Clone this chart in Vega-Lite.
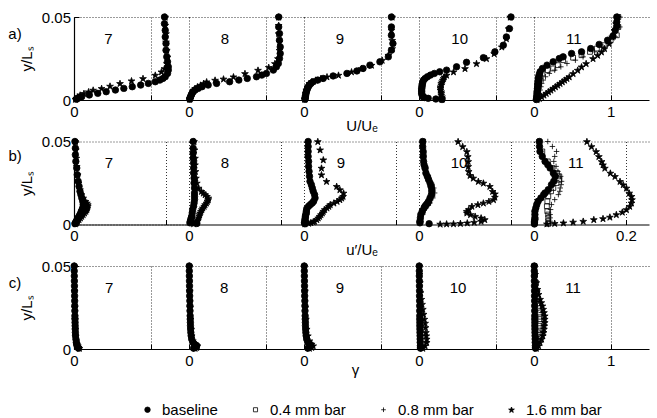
{
"$schema":"https://vega.github.io/schema/vega-lite/v6.json",
"padding":{"left":8,"top":10,"right":5,"bottom":0},
"datasets":{
"A":[
{"s":7,"g":"baseline","y":0.0005,"x":0.03},{"s":7,"g":"baseline","y":0.001,"x":0.05},{"s":7,"g":"baseline","y":0.0015,"x":0.07},{"s":7,"g":"baseline","y":0.002,"x":0.10},{"s":7,"g":"baseline","y":0.003,"x":0.20},{"s":7,"g":"baseline","y":0.004,"x":0.31},{"s":7,"g":"baseline","y":0.005,"x":0.42},{"s":7,"g":"baseline","y":0.006,"x":0.54},{"s":7,"g":"baseline","y":0.007,"x":0.65},{"s":7,"g":"baseline","y":0.008,"x":0.76},{"s":7,"g":"baseline","y":0.009,"x":0.87},{"s":7,"g":"baseline","y":0.010,"x":0.97},{"s":7,"g":"baseline","y":0.011,"x":1.06},{"s":7,"g":"baseline","y":0.012,"x":1.12},{"s":7,"g":"baseline","y":0.013,"x":1.16},{"s":7,"g":"baseline","y":0.014,"x":1.19},{"s":7,"g":"baseline","y":0.016,"x":1.22},{"s":7,"g":"baseline","y":0.018,"x":1.23},{"s":7,"g":"baseline","y":0.020,"x":1.23},{"s":7,"g":"baseline","y":0.023,"x":1.22},{"s":7,"g":"baseline","y":0.026,"x":1.21},{"s":7,"g":"baseline","y":0.030,"x":1.20},{"s":7,"g":"baseline","y":0.034,"x":1.20},{"s":7,"g":"baseline","y":0.038,"x":1.19},{"s":7,"g":"baseline","y":0.042,"x":1.19},{"s":7,"g":"baseline","y":0.046,"x":1.18},{"s":7,"g":"baseline","y":0.050,"x":1.18},
{"s":7,"g":"1.6 mm bar","y":0.0005,"x":0.02},{"s":7,"g":"1.6 mm bar","y":0.001,"x":0.03},{"s":7,"g":"1.6 mm bar","y":0.002,"x":0.05},{"s":7,"g":"1.6 mm bar","y":0.003,"x":0.08},{"s":7,"g":"1.6 mm bar","y":0.004,"x":0.13},{"s":7,"g":"1.6 mm bar","y":0.005,"x":0.19},{"s":7,"g":"1.6 mm bar","y":0.006,"x":0.25},{"s":7,"g":"1.6 mm bar","y":0.007,"x":0.36},{"s":7,"g":"1.6 mm bar","y":0.0084,"x":0.47},{"s":7,"g":"1.6 mm bar","y":0.010,"x":0.60},{"s":7,"g":"1.6 mm bar","y":0.0116,"x":0.75},{"s":7,"g":"1.6 mm bar","y":0.013,"x":0.90},{"s":7,"g":"1.6 mm bar","y":0.015,"x":1.06},{"s":7,"g":"1.6 mm bar","y":0.017,"x":1.14},{"s":7,"g":"1.6 mm bar","y":0.019,"x":1.18},{"s":7,"g":"1.6 mm bar","y":0.022,"x":1.21},{"s":7,"g":"1.6 mm bar","y":0.026,"x":1.22},{"s":7,"g":"1.6 mm bar","y":0.030,"x":1.21},{"s":7,"g":"1.6 mm bar","y":0.035,"x":1.20},{"s":7,"g":"1.6 mm bar","y":0.040,"x":1.20},{"s":7,"g":"1.6 mm bar","y":0.045,"x":1.19},{"s":7,"g":"1.6 mm bar","y":0.050,"x":1.19},
{"s":8,"g":"baseline","y":0.0005,"x":0.01},{"s":8,"g":"baseline","y":0.001,"x":0.013},{"s":8,"g":"baseline","y":0.002,"x":0.02},{"s":8,"g":"baseline","y":0.003,"x":0.03},{"s":8,"g":"baseline","y":0.004,"x":0.04},{"s":8,"g":"baseline","y":0.005,"x":0.055},{"s":8,"g":"baseline","y":0.006,"x":0.08},{"s":8,"g":"baseline","y":0.007,"x":0.12},{"s":8,"g":"baseline","y":0.008,"x":0.17},{"s":8,"g":"baseline","y":0.009,"x":0.25},{"s":8,"g":"baseline","y":0.010,"x":0.36},{"s":8,"g":"baseline","y":0.011,"x":0.53},{"s":8,"g":"baseline","y":0.012,"x":0.65},{"s":8,"g":"baseline","y":0.013,"x":0.76},{"s":8,"g":"baseline","y":0.014,"x":0.88},{"s":8,"g":"baseline","y":0.015,"x":0.95},{"s":8,"g":"baseline","y":0.016,"x":1.01},{"s":8,"g":"baseline","y":0.018,"x":1.10},{"s":8,"g":"baseline","y":0.020,"x":1.14},{"s":8,"g":"baseline","y":0.022,"x":1.165},{"s":8,"g":"baseline","y":0.025,"x":1.18},{"s":8,"g":"baseline","y":0.028,"x":1.19},{"s":8,"g":"baseline","y":0.032,"x":1.19},{"s":8,"g":"baseline","y":0.036,"x":1.18},{"s":8,"g":"baseline","y":0.040,"x":1.18},{"s":8,"g":"baseline","y":0.044,"x":1.17},{"s":8,"g":"baseline","y":0.050,"x":1.17},
{"s":8,"g":"1.6 mm bar","y":0.0005,"x":0.01},{"s":8,"g":"1.6 mm bar","y":0.001,"x":0.012},{"s":8,"g":"1.6 mm bar","y":0.002,"x":0.02},{"s":8,"g":"1.6 mm bar","y":0.003,"x":0.03},{"s":8,"g":"1.6 mm bar","y":0.004,"x":0.04},{"s":8,"g":"1.6 mm bar","y":0.005,"x":0.05},{"s":8,"g":"1.6 mm bar","y":0.006,"x":0.06},{"s":8,"g":"1.6 mm bar","y":0.007,"x":0.08},{"s":8,"g":"1.6 mm bar","y":0.008,"x":0.11},{"s":8,"g":"1.6 mm bar","y":0.009,"x":0.15},{"s":8,"g":"1.6 mm bar","y":0.010,"x":0.19},{"s":8,"g":"1.6 mm bar","y":0.011,"x":0.23},{"s":8,"g":"1.6 mm bar","y":0.012,"x":0.34},{"s":8,"g":"1.6 mm bar","y":0.0127,"x":0.45},{"s":8,"g":"1.6 mm bar","y":0.014,"x":0.58},{"s":8,"g":"1.6 mm bar","y":0.016,"x":0.73},{"s":8,"g":"1.6 mm bar","y":0.018,"x":0.90},{"s":8,"g":"1.6 mm bar","y":0.0197,"x":1.04},{"s":8,"g":"1.6 mm bar","y":0.022,"x":1.12},{"s":8,"g":"1.6 mm bar","y":0.025,"x":1.16},{"s":8,"g":"1.6 mm bar","y":0.030,"x":1.18},{"s":8,"g":"1.6 mm bar","y":0.035,"x":1.18},{"s":8,"g":"1.6 mm bar","y":0.040,"x":1.17},{"s":8,"g":"1.6 mm bar","y":0.045,"x":1.17},{"s":8,"g":"1.6 mm bar","y":0.050,"x":1.17},
{"s":9,"g":"baseline","y":0.0004,"x":0.013},{"s":9,"g":"baseline","y":0.001,"x":0.015},{"s":9,"g":"baseline","y":0.002,"x":0.018},{"s":9,"g":"baseline","y":0.003,"x":0.022},{"s":9,"g":"baseline","y":0.004,"x":0.026},{"s":9,"g":"baseline","y":0.005,"x":0.03},{"s":9,"g":"baseline","y":0.006,"x":0.038},{"s":9,"g":"baseline","y":0.007,"x":0.045},{"s":9,"g":"baseline","y":0.008,"x":0.056},{"s":9,"g":"baseline","y":0.009,"x":0.07},{"s":9,"g":"baseline","y":0.010,"x":0.09},{"s":9,"g":"baseline","y":0.011,"x":0.12},{"s":9,"g":"baseline","y":0.012,"x":0.18},{"s":9,"g":"baseline","y":0.013,"x":0.25},{"s":9,"g":"baseline","y":0.0145,"x":0.38},{"s":9,"g":"baseline","y":0.016,"x":0.56},{"s":9,"g":"baseline","y":0.0175,"x":0.69},{"s":9,"g":"baseline","y":0.019,"x":0.77},{"s":9,"g":"baseline","y":0.021,"x":0.86},{"s":9,"g":"baseline","y":0.023,"x":0.99},{"s":9,"g":"baseline","y":0.026,"x":1.10},{"s":9,"g":"baseline","y":0.030,"x":1.14},{"s":9,"g":"baseline","y":0.034,"x":1.16},{"s":9,"g":"baseline","y":0.039,"x":1.14},{"s":9,"g":"baseline","y":0.044,"x":1.14},{"s":9,"g":"baseline","y":0.050,"x":1.14},
{"s":9,"g":"1.6 mm bar","y":0.0005,"x":0.01},{"s":9,"g":"1.6 mm bar","y":0.001,"x":0.013},{"s":9,"g":"1.6 mm bar","y":0.002,"x":0.016},{"s":9,"g":"1.6 mm bar","y":0.004,"x":0.022},{"s":9,"g":"1.6 mm bar","y":0.006,"x":0.03},{"s":9,"g":"1.6 mm bar","y":0.008,"x":0.045},{"s":9,"g":"1.6 mm bar","y":0.010,"x":0.07},{"s":9,"g":"1.6 mm bar","y":0.011,"x":0.10},{"s":9,"g":"1.6 mm bar","y":0.012,"x":0.15},{"s":9,"g":"1.6 mm bar","y":0.013,"x":0.22},{"s":9,"g":"1.6 mm bar","y":0.014,"x":0.30},{"s":9,"g":"1.6 mm bar","y":0.015,"x":0.45},{"s":9,"g":"1.6 mm bar","y":0.017,"x":0.62},{"s":9,"g":"1.6 mm bar","y":0.019,"x":0.75},{"s":9,"g":"1.6 mm bar","y":0.021,"x":0.88},{"s":9,"g":"1.6 mm bar","y":0.024,"x":1.02},{"s":9,"g":"1.6 mm bar","y":0.027,"x":1.10},{"s":9,"g":"1.6 mm bar","y":0.031,"x":1.15},{"s":9,"g":"1.6 mm bar","y":0.036,"x":1.15},{"s":9,"g":"1.6 mm bar","y":0.042,"x":1.14},{"s":9,"g":"1.6 mm bar","y":0.050,"x":1.15},
{"s":10,"g":"baseline","y":0.0003,"x":0.30},{"s":10,"g":"baseline","y":0.0006,"x":0.22},{"s":10,"g":"baseline","y":0.001,"x":0.12},{"s":10,"g":"baseline","y":0.0015,"x":0.07},{"s":10,"g":"baseline","y":0.002,"x":0.05},{"s":10,"g":"baseline","y":0.003,"x":0.04},{"s":10,"g":"baseline","y":0.004,"x":0.035},{"s":10,"g":"baseline","y":0.005,"x":0.035},{"s":10,"g":"baseline","y":0.006,"x":0.035},{"s":10,"g":"baseline","y":0.007,"x":0.035},{"s":10,"g":"baseline","y":0.008,"x":0.04},{"s":10,"g":"baseline","y":0.009,"x":0.04},{"s":10,"g":"baseline","y":0.010,"x":0.045},{"s":10,"g":"baseline","y":0.011,"x":0.05},{"s":10,"g":"baseline","y":0.012,"x":0.06},{"s":10,"g":"baseline","y":0.013,"x":0.08},{"s":10,"g":"baseline","y":0.014,"x":0.11},{"s":10,"g":"baseline","y":0.015,"x":0.15},{"s":10,"g":"baseline","y":0.016,"x":0.20},{"s":10,"g":"baseline","y":0.017,"x":0.27},{"s":10,"g":"baseline","y":0.018,"x":0.36},{"s":10,"g":"baseline","y":0.020,"x":0.49},{"s":10,"g":"baseline","y":0.0227,"x":0.62},{"s":10,"g":"baseline","y":0.0255,"x":0.84},{"s":10,"g":"baseline","y":0.029,"x":0.99},{"s":10,"g":"baseline","y":0.033,"x":1.10},{"s":10,"g":"baseline","y":0.038,"x":1.14},{"s":10,"g":"baseline","y":0.043,"x":1.18},{"s":10,"g":"baseline","y":0.050,"x":1.20},
{"s":10,"g":"1.6 mm bar","y":0.0005,"x":0.30},{"s":10,"g":"1.6 mm bar","y":0.001,"x":0.30},{"s":10,"g":"1.6 mm bar","y":0.002,"x":0.30},{"s":10,"g":"1.6 mm bar","y":0.003,"x":0.29},{"s":10,"g":"1.6 mm bar","y":0.004,"x":0.29},{"s":10,"g":"1.6 mm bar","y":0.005,"x":0.29},{"s":10,"g":"1.6 mm bar","y":0.006,"x":0.28},{"s":10,"g":"1.6 mm bar","y":0.007,"x":0.28},{"s":10,"g":"1.6 mm bar","y":0.008,"x":0.28},{"s":10,"g":"1.6 mm bar","y":0.009,"x":0.29},{"s":10,"g":"1.6 mm bar","y":0.010,"x":0.29},{"s":10,"g":"1.6 mm bar","y":0.011,"x":0.30},{"s":10,"g":"1.6 mm bar","y":0.012,"x":0.31},{"s":10,"g":"1.6 mm bar","y":0.013,"x":0.32},{"s":10,"g":"1.6 mm bar","y":0.014,"x":0.33},{"s":10,"g":"1.6 mm bar","y":0.015,"x":0.36},{"s":10,"g":"1.6 mm bar","y":0.017,"x":0.45},{"s":10,"g":"1.6 mm bar","y":0.019,"x":0.60},{"s":10,"g":"1.6 mm bar","y":0.022,"x":0.75},{"s":10,"g":"1.6 mm bar","y":0.025,"x":0.88},{"s":10,"g":"1.6 mm bar","y":0.028,"x":0.98},{"s":10,"g":"1.6 mm bar","y":0.032,"x":1.08},{"s":10,"g":"1.6 mm bar","y":0.037,"x":1.14},{"s":10,"g":"1.6 mm bar","y":0.043,"x":1.17},{"s":10,"g":"1.6 mm bar","y":0.050,"x":1.19},
{"s":11,"g":"baseline","y":0.0003,"x":0.03},{"s":11,"g":"baseline","y":0.001,"x":0.035},{"s":11,"g":"baseline","y":0.002,"x":0.035},{"s":11,"g":"baseline","y":0.003,"x":0.04},{"s":11,"g":"baseline","y":0.004,"x":0.04},{"s":11,"g":"baseline","y":0.005,"x":0.04},{"s":11,"g":"baseline","y":0.006,"x":0.045},{"s":11,"g":"baseline","y":0.007,"x":0.045},{"s":11,"g":"baseline","y":0.008,"x":0.05},{"s":11,"g":"baseline","y":0.009,"x":0.05},{"s":11,"g":"baseline","y":0.010,"x":0.05},{"s":11,"g":"baseline","y":0.011,"x":0.055},{"s":11,"g":"baseline","y":0.012,"x":0.055},{"s":11,"g":"baseline","y":0.013,"x":0.06},{"s":11,"g":"baseline","y":0.014,"x":0.06},{"s":11,"g":"baseline","y":0.0155,"x":0.07},{"s":11,"g":"baseline","y":0.017,"x":0.08},{"s":11,"g":"baseline","y":0.019,"x":0.11},{"s":11,"g":"baseline","y":0.021,"x":0.17},{"s":11,"g":"baseline","y":0.023,"x":0.25},{"s":11,"g":"baseline","y":0.025,"x":0.33},{"s":11,"g":"baseline","y":0.026,"x":0.38},{"s":11,"g":"baseline","y":0.028,"x":0.49},{"s":11,"g":"baseline","y":0.029,"x":0.62},{"s":11,"g":"baseline","y":0.031,"x":0.74},{"s":11,"g":"baseline","y":0.0335,"x":0.85},{"s":11,"g":"baseline","y":0.036,"x":0.96},{"s":11,"g":"baseline","y":0.0385,"x":1.03},{"s":11,"g":"baseline","y":0.042,"x":1.06},{"s":11,"g":"baseline","y":0.0446,"x":1.08},{"s":11,"g":"baseline","y":0.047,"x":1.08},{"s":11,"g":"baseline","y":0.050,"x":1.08},
{"s":11,"g":"0.4 mm bar","y":0.0005,"x":0.04},{"s":11,"g":"0.4 mm bar","y":0.002,"x":0.045},{"s":11,"g":"0.4 mm bar","y":0.004,"x":0.05},{"s":11,"g":"0.4 mm bar","y":0.006,"x":0.055},{"s":11,"g":"0.4 mm bar","y":0.008,"x":0.06},{"s":11,"g":"0.4 mm bar","y":0.010,"x":0.065},{"s":11,"g":"0.4 mm bar","y":0.012,"x":0.07},{"s":11,"g":"0.4 mm bar","y":0.014,"x":0.08},{"s":11,"g":"0.4 mm bar","y":0.016,"x":0.11},{"s":11,"g":"0.4 mm bar","y":0.018,"x":0.18},{"s":11,"g":"0.4 mm bar","y":0.019,"x":0.25},{"s":11,"g":"0.4 mm bar","y":0.021,"x":0.31},{"s":11,"g":"0.4 mm bar","y":0.024,"x":0.38},{"s":11,"g":"0.4 mm bar","y":0.0255,"x":0.51},{"s":11,"g":"0.4 mm bar","y":0.027,"x":0.62},{"s":11,"g":"0.4 mm bar","y":0.029,"x":0.73},{"s":11,"g":"0.4 mm bar","y":0.031,"x":0.82},{"s":11,"g":"0.4 mm bar","y":0.033,"x":0.91},{"s":11,"g":"0.4 mm bar","y":0.036,"x":1.00},{"s":11,"g":"0.4 mm bar","y":0.039,"x":1.08},{"s":11,"g":"0.4 mm bar","y":0.044,"x":1.10},{"s":11,"g":"0.4 mm bar","y":0.050,"x":1.10},
{"s":11,"g":"0.8 mm bar","y":0.0005,"x":0.05},{"s":11,"g":"0.8 mm bar","y":0.002,"x":0.06},{"s":11,"g":"0.8 mm bar","y":0.004,"x":0.07},{"s":11,"g":"0.8 mm bar","y":0.006,"x":0.08},{"s":11,"g":"0.8 mm bar","y":0.008,"x":0.09},{"s":11,"g":"0.8 mm bar","y":0.010,"x":0.10},{"s":11,"g":"0.8 mm bar","y":0.012,"x":0.12},{"s":11,"g":"0.8 mm bar","y":0.014,"x":0.15},{"s":11,"g":"0.8 mm bar","y":0.016,"x":0.20},{"s":11,"g":"0.8 mm bar","y":0.018,"x":0.27},{"s":11,"g":"0.8 mm bar","y":0.020,"x":0.35},{"s":11,"g":"0.8 mm bar","y":0.022,"x":0.43},{"s":11,"g":"0.8 mm bar","y":0.024,"x":0.54},{"s":11,"g":"0.8 mm bar","y":0.026,"x":0.64},{"s":11,"g":"0.8 mm bar","y":0.029,"x":0.79},{"s":11,"g":"0.8 mm bar","y":0.032,"x":0.90},{"s":11,"g":"0.8 mm bar","y":0.034,"x":0.97},{"s":11,"g":"0.8 mm bar","y":0.038,"x":1.06},{"s":11,"g":"0.8 mm bar","y":0.044,"x":1.12},{"s":11,"g":"0.8 mm bar","y":0.050,"x":1.12},
{"s":11,"g":"1.6 mm bar","y":0.0003,"x":0.04},{"s":11,"g":"1.6 mm bar","y":0.001,"x":0.07},{"s":11,"g":"1.6 mm bar","y":0.002,"x":0.10},{"s":11,"g":"1.6 mm bar","y":0.003,"x":0.13},{"s":11,"g":"1.6 mm bar","y":0.004,"x":0.16},{"s":11,"g":"1.6 mm bar","y":0.005,"x":0.19},{"s":11,"g":"1.6 mm bar","y":0.006,"x":0.22},{"s":11,"g":"1.6 mm bar","y":0.007,"x":0.25},{"s":11,"g":"1.6 mm bar","y":0.008,"x":0.28},{"s":11,"g":"1.6 mm bar","y":0.009,"x":0.31},{"s":11,"g":"1.6 mm bar","y":0.010,"x":0.34},{"s":11,"g":"1.6 mm bar","y":0.011,"x":0.37},{"s":11,"g":"1.6 mm bar","y":0.012,"x":0.40},{"s":11,"g":"1.6 mm bar","y":0.013,"x":0.43},{"s":11,"g":"1.6 mm bar","y":0.014,"x":0.46},{"s":11,"g":"1.6 mm bar","y":0.016,"x":0.51},{"s":11,"g":"1.6 mm bar","y":0.018,"x":0.57},{"s":11,"g":"1.6 mm bar","y":0.020,"x":0.62},{"s":11,"g":"1.6 mm bar","y":0.022,"x":0.68},{"s":11,"g":"1.6 mm bar","y":0.025,"x":0.77},{"s":11,"g":"1.6 mm bar","y":0.027,"x":0.83},{"s":11,"g":"1.6 mm bar","y":0.029,"x":0.88},{"s":11,"g":"1.6 mm bar","y":0.031,"x":0.92},{"s":11,"g":"1.6 mm bar","y":0.034,"x":0.98},{"s":11,"g":"1.6 mm bar","y":0.038,"x":1.02},{"s":11,"g":"1.6 mm bar","y":0.042,"x":1.05},{"s":11,"g":"1.6 mm bar","y":0.046,"x":1.07},{"s":11,"g":"1.6 mm bar","y":0.050,"x":1.09}
],
"B":[
{"s":7,"g":"baseline","y":0.0005,"x":0.002},{"s":7,"g":"baseline","y":0.001,"x":0.003},{"s":7,"g":"baseline","y":0.002,"x":0.005},{"s":7,"g":"baseline","y":0.003,"x":0.007},{"s":7,"g":"baseline","y":0.004,"x":0.009},{"s":7,"g":"baseline","y":0.005,"x":0.011},{"s":7,"g":"baseline","y":0.006,"x":0.013},{"s":7,"g":"baseline","y":0.007,"x":0.015},{"s":7,"g":"baseline","y":0.008,"x":0.016},{"s":7,"g":"baseline","y":0.009,"x":0.018},{"s":7,"g":"baseline","y":0.010,"x":0.019},{"s":7,"g":"baseline","y":0.012,"x":0.020},{"s":7,"g":"baseline","y":0.014,"x":0.019},{"s":7,"g":"baseline","y":0.016,"x":0.017},{"s":7,"g":"baseline","y":0.018,"x":0.015},{"s":7,"g":"baseline","y":0.020,"x":0.013},{"s":7,"g":"baseline","y":0.023,"x":0.011},{"s":7,"g":"baseline","y":0.026,"x":0.009},{"s":7,"g":"baseline","y":0.030,"x":0.007},{"s":7,"g":"baseline","y":0.034,"x":0.006},{"s":7,"g":"baseline","y":0.038,"x":0.004},{"s":7,"g":"baseline","y":0.042,"x":0.003},{"s":7,"g":"baseline","y":0.046,"x":0.003},{"s":7,"g":"baseline","y":0.050,"x":0.002},
{"s":7,"g":"1.6 mm bar","y":0.0005,"x":0.003},{"s":7,"g":"1.6 mm bar","y":0.001,"x":0.005},{"s":7,"g":"1.6 mm bar","y":0.002,"x":0.008},{"s":7,"g":"1.6 mm bar","y":0.003,"x":0.011},{"s":7,"g":"1.6 mm bar","y":0.004,"x":0.014},{"s":7,"g":"1.6 mm bar","y":0.005,"x":0.017},{"s":7,"g":"1.6 mm bar","y":0.006,"x":0.020},{"s":7,"g":"1.6 mm bar","y":0.007,"x":0.023},{"s":7,"g":"1.6 mm bar","y":0.008,"x":0.026},{"s":7,"g":"1.6 mm bar","y":0.009,"x":0.028},{"s":7,"g":"1.6 mm bar","y":0.010,"x":0.029},{"s":7,"g":"1.6 mm bar","y":0.011,"x":0.030},{"s":7,"g":"1.6 mm bar","y":0.012,"x":0.030},{"s":7,"g":"1.6 mm bar","y":0.013,"x":0.028},{"s":7,"g":"1.6 mm bar","y":0.014,"x":0.025},{"s":7,"g":"1.6 mm bar","y":0.016,"x":0.020},{"s":7,"g":"1.6 mm bar","y":0.018,"x":0.016},{"s":7,"g":"1.6 mm bar","y":0.021,"x":0.013},{"s":7,"g":"1.6 mm bar","y":0.025,"x":0.010},{"s":7,"g":"1.6 mm bar","y":0.030,"x":0.008},{"s":7,"g":"1.6 mm bar","y":0.035,"x":0.006},{"s":7,"g":"1.6 mm bar","y":0.040,"x":0.005},{"s":7,"g":"1.6 mm bar","y":0.045,"x":0.004},{"s":7,"g":"1.6 mm bar","y":0.050,"x":0.003},
{"s":8,"g":"baseline","y":0.0006,"x":0.017},{"s":8,"g":"baseline","y":0.001,"x":0.002},{"s":8,"g":"baseline","y":0.002,"x":0.003},{"s":8,"g":"baseline","y":0.003,"x":0.004},{"s":8,"g":"baseline","y":0.004,"x":0.005},{"s":8,"g":"baseline","y":0.005,"x":0.006},{"s":8,"g":"baseline","y":0.007,"x":0.007},{"s":8,"g":"baseline","y":0.009,"x":0.008},{"s":8,"g":"baseline","y":0.011,"x":0.010},{"s":8,"g":"baseline","y":0.013,"x":0.011},{"s":8,"g":"baseline","y":0.015,"x":0.012},{"s":8,"g":"baseline","y":0.017,"x":0.012},{"s":8,"g":"baseline","y":0.019,"x":0.012},{"s":8,"g":"baseline","y":0.022,"x":0.012},{"s":8,"g":"baseline","y":0.025,"x":0.011},{"s":8,"g":"baseline","y":0.028,"x":0.011},{"s":8,"g":"baseline","y":0.031,"x":0.010},{"s":8,"g":"baseline","y":0.034,"x":0.010},{"s":8,"g":"baseline","y":0.037,"x":0.010},{"s":8,"g":"baseline","y":0.040,"x":0.009},{"s":8,"g":"baseline","y":0.043,"x":0.009},{"s":8,"g":"baseline","y":0.046,"x":0.009},{"s":8,"g":"baseline","y":0.050,"x":0.009},
{"s":8,"g":"1.6 mm bar","y":0.0005,"x":0.010},{"s":8,"g":"1.6 mm bar","y":0.001,"x":0.014},{"s":8,"g":"1.6 mm bar","y":0.002,"x":0.017},{"s":8,"g":"1.6 mm bar","y":0.003,"x":0.019},{"s":8,"g":"1.6 mm bar","y":0.004,"x":0.021},{"s":8,"g":"1.6 mm bar","y":0.005,"x":0.022},{"s":8,"g":"1.6 mm bar","y":0.006,"x":0.023},{"s":8,"g":"1.6 mm bar","y":0.007,"x":0.024},{"s":8,"g":"1.6 mm bar","y":0.008,"x":0.026},{"s":8,"g":"1.6 mm bar","y":0.009,"x":0.028},{"s":8,"g":"1.6 mm bar","y":0.010,"x":0.030},{"s":8,"g":"1.6 mm bar","y":0.011,"x":0.033},{"s":8,"g":"1.6 mm bar","y":0.012,"x":0.035},{"s":8,"g":"1.6 mm bar","y":0.013,"x":0.038},{"s":8,"g":"1.6 mm bar","y":0.014,"x":0.040},{"s":8,"g":"1.6 mm bar","y":0.015,"x":0.042},{"s":8,"g":"1.6 mm bar","y":0.016,"x":0.042},{"s":8,"g":"1.6 mm bar","y":0.017,"x":0.039},{"s":8,"g":"1.6 mm bar","y":0.018,"x":0.035},{"s":8,"g":"1.6 mm bar","y":0.019,"x":0.031},{"s":8,"g":"1.6 mm bar","y":0.020,"x":0.027},{"s":8,"g":"1.6 mm bar","y":0.022,"x":0.021},{"s":8,"g":"1.6 mm bar","y":0.025,"x":0.017},{"s":8,"g":"1.6 mm bar","y":0.028,"x":0.015},{"s":8,"g":"1.6 mm bar","y":0.032,"x":0.014},{"s":8,"g":"1.6 mm bar","y":0.036,"x":0.013},{"s":8,"g":"1.6 mm bar","y":0.040,"x":0.013},{"s":8,"g":"1.6 mm bar","y":0.045,"x":0.012},{"s":8,"g":"1.6 mm bar","y":0.050,"x":0.011},
{"s":9,"g":"baseline","y":0.0004,"x":0.002},{"s":9,"g":"baseline","y":0.001,"x":0.001},{"s":9,"g":"baseline","y":0.002,"x":0.002},{"s":9,"g":"baseline","y":0.003,"x":0.002},{"s":9,"g":"baseline","y":0.004,"x":0.003},{"s":9,"g":"baseline","y":0.005,"x":0.003},{"s":9,"g":"baseline","y":0.006,"x":0.004},{"s":9,"g":"baseline","y":0.007,"x":0.005},{"s":9,"g":"baseline","y":0.008,"x":0.005},{"s":9,"g":"baseline","y":0.0095,"x":0.006},{"s":9,"g":"baseline","y":0.011,"x":0.010},{"s":9,"g":"baseline","y":0.012,"x":0.014},{"s":9,"g":"baseline","y":0.013,"x":0.018},{"s":9,"g":"baseline","y":0.014,"x":0.021},{"s":9,"g":"baseline","y":0.016,"x":0.024},{"s":9,"g":"baseline","y":0.018,"x":0.023},{"s":9,"g":"baseline","y":0.020,"x":0.020},{"s":9,"g":"baseline","y":0.022,"x":0.018},{"s":9,"g":"baseline","y":0.024,"x":0.016},{"s":9,"g":"baseline","y":0.026,"x":0.013},{"s":9,"g":"baseline","y":0.029,"x":0.012},{"s":9,"g":"baseline","y":0.032,"x":0.011},{"s":9,"g":"baseline","y":0.035,"x":0.010},{"s":9,"g":"baseline","y":0.038,"x":0.010},{"s":9,"g":"baseline","y":0.041,"x":0.009},{"s":9,"g":"baseline","y":0.044,"x":0.009},{"s":9,"g":"baseline","y":0.047,"x":0.009},{"s":9,"g":"baseline","y":0.050,"x":0.009},
{"s":9,"g":"1.6 mm bar","y":0.0004,"x":0.002},{"s":9,"g":"1.6 mm bar","y":0.0008,"x":0.010},{"s":9,"g":"1.6 mm bar","y":0.0012,"x":0.015},{"s":9,"g":"1.6 mm bar","y":0.0016,"x":0.020},{"s":9,"g":"1.6 mm bar","y":0.002,"x":0.023},{"s":9,"g":"1.6 mm bar","y":0.003,"x":0.028},{"s":9,"g":"1.6 mm bar","y":0.004,"x":0.031},{"s":9,"g":"1.6 mm bar","y":0.005,"x":0.034},{"s":9,"g":"1.6 mm bar","y":0.006,"x":0.037},{"s":9,"g":"1.6 mm bar","y":0.007,"x":0.040},{"s":9,"g":"1.6 mm bar","y":0.008,"x":0.042},{"s":9,"g":"1.6 mm bar","y":0.009,"x":0.045},{"s":9,"g":"1.6 mm bar","y":0.010,"x":0.050},{"s":9,"g":"1.6 mm bar","y":0.011,"x":0.054},{"s":9,"g":"1.6 mm bar","y":0.012,"x":0.057},{"s":9,"g":"1.6 mm bar","y":0.013,"x":0.065},{"s":9,"g":"1.6 mm bar","y":0.014,"x":0.072},{"s":9,"g":"1.6 mm bar","y":0.015,"x":0.078},{"s":9,"g":"1.6 mm bar","y":0.016,"x":0.082},{"s":9,"g":"1.6 mm bar","y":0.017,"x":0.085},{"s":9,"g":"1.6 mm bar","y":0.019,"x":0.086},{"s":9,"g":"1.6 mm bar","y":0.021,"x":0.078},{"s":9,"g":"1.6 mm bar","y":0.023,"x":0.071},{"s":9,"g":"1.6 mm bar","y":0.026,"x":0.049},{"s":9,"g":"1.6 mm bar","y":0.030,"x":0.038},{"s":9,"g":"1.6 mm bar","y":0.034,"x":0.038},{"s":9,"g":"1.6 mm bar","y":0.039,"x":0.042},{"s":9,"g":"1.6 mm bar","y":0.045,"x":0.035},{"s":9,"g":"1.6 mm bar","y":0.050,"x":0.030},
{"s":10,"g":"baseline","y":0.0005,"x":0.022},{"s":10,"g":"baseline","y":0.001,"x":0.002},{"s":10,"g":"baseline","y":0.002,"x":0.002},{"s":10,"g":"baseline","y":0.004,"x":0.003},{"s":10,"g":"baseline","y":0.006,"x":0.004},{"s":10,"g":"baseline","y":0.008,"x":0.007},{"s":10,"g":"baseline","y":0.010,"x":0.011},{"s":10,"g":"baseline","y":0.011,"x":0.013},{"s":10,"g":"baseline","y":0.012,"x":0.016},{"s":10,"g":"baseline","y":0.013,"x":0.019},{"s":10,"g":"baseline","y":0.014,"x":0.021},{"s":10,"g":"baseline","y":0.016,"x":0.024},{"s":10,"g":"baseline","y":0.018,"x":0.027},{"s":10,"g":"baseline","y":0.020,"x":0.028},{"s":10,"g":"baseline","y":0.021,"x":0.028},{"s":10,"g":"baseline","y":0.023,"x":0.026},{"s":10,"g":"baseline","y":0.025,"x":0.024},{"s":10,"g":"baseline","y":0.027,"x":0.021},{"s":10,"g":"baseline","y":0.029,"x":0.018},{"s":10,"g":"baseline","y":0.031,"x":0.015},{"s":10,"g":"baseline","y":0.034,"x":0.013},{"s":10,"g":"baseline","y":0.036,"x":0.011},{"s":10,"g":"baseline","y":0.038,"x":0.010},{"s":10,"g":"baseline","y":0.041,"x":0.009},{"s":10,"g":"baseline","y":0.044,"x":0.009},{"s":10,"g":"baseline","y":0.047,"x":0.008},{"s":10,"g":"baseline","y":0.050,"x":0.008},
{"s":10,"g":"0.4 mm bar","y":0.002,"x":0.003},{"s":10,"g":"0.4 mm bar","y":0.008,"x":0.008},{"s":10,"g":"0.4 mm bar","y":0.013,"x":0.020},{"s":10,"g":"0.4 mm bar","y":0.018,"x":0.029},{"s":10,"g":"0.4 mm bar","y":0.023,"x":0.028},{"s":10,"g":"0.4 mm bar","y":0.028,"x":0.020},{"s":10,"g":"0.4 mm bar","y":0.034,"x":0.014},{"s":10,"g":"0.4 mm bar","y":0.042,"x":0.010},{"s":10,"g":"0.4 mm bar","y":0.050,"x":0.009},
{"s":10,"g":"0.8 mm bar","y":0.002,"x":0.004},{"s":10,"g":"0.8 mm bar","y":0.006,"x":0.008},{"s":10,"g":"0.8 mm bar","y":0.010,"x":0.016},{"s":10,"g":"0.8 mm bar","y":0.013,"x":0.024},{"s":10,"g":"0.8 mm bar","y":0.016,"x":0.030},{"s":10,"g":"0.8 mm bar","y":0.019,"x":0.034},{"s":10,"g":"0.8 mm bar","y":0.022,"x":0.032},{"s":10,"g":"0.8 mm bar","y":0.025,"x":0.027},{"s":10,"g":"0.8 mm bar","y":0.029,"x":0.020},{"s":10,"g":"0.8 mm bar","y":0.034,"x":0.014},{"s":10,"g":"0.8 mm bar","y":0.040,"x":0.011},{"s":10,"g":"0.8 mm bar","y":0.046,"x":0.010},{"s":10,"g":"0.8 mm bar","y":0.050,"x":0.009},
{"s":10,"g":"1.6 mm bar","y":0.0003,"x":0.046},{"s":10,"g":"1.6 mm bar","y":0.0004,"x":0.060},{"s":10,"g":"1.6 mm bar","y":0.0005,"x":0.075},{"s":10,"g":"1.6 mm bar","y":0.0007,"x":0.090},{"s":10,"g":"1.6 mm bar","y":0.001,"x":0.105},{"s":10,"g":"1.6 mm bar","y":0.0014,"x":0.120},{"s":10,"g":"1.6 mm bar","y":0.002,"x":0.135},{"s":10,"g":"1.6 mm bar","y":0.003,"x":0.143},{"s":10,"g":"1.6 mm bar","y":0.004,"x":0.135},{"s":10,"g":"1.6 mm bar","y":0.005,"x":0.122},{"s":10,"g":"1.6 mm bar","y":0.006,"x":0.112},{"s":10,"g":"1.6 mm bar","y":0.007,"x":0.104},{"s":10,"g":"1.6 mm bar","y":0.008,"x":0.104},{"s":10,"g":"1.6 mm bar","y":0.009,"x":0.108},{"s":10,"g":"1.6 mm bar","y":0.011,"x":0.115},{"s":10,"g":"1.6 mm bar","y":0.012,"x":0.128},{"s":10,"g":"1.6 mm bar","y":0.013,"x":0.140},{"s":10,"g":"1.6 mm bar","y":0.014,"x":0.152},{"s":10,"g":"1.6 mm bar","y":0.015,"x":0.162},{"s":10,"g":"1.6 mm bar","y":0.0165,"x":0.165},{"s":10,"g":"1.6 mm bar","y":0.0185,"x":0.165},{"s":10,"g":"1.6 mm bar","y":0.020,"x":0.160},{"s":10,"g":"1.6 mm bar","y":0.023,"x":0.154},{"s":10,"g":"1.6 mm bar","y":0.025,"x":0.140},{"s":10,"g":"1.6 mm bar","y":0.026,"x":0.129},{"s":10,"g":"1.6 mm bar","y":0.028,"x":0.118},{"s":10,"g":"1.6 mm bar","y":0.0296,"x":0.111},{"s":10,"g":"1.6 mm bar","y":0.032,"x":0.108},{"s":10,"g":"1.6 mm bar","y":0.035,"x":0.107},{"s":10,"g":"1.6 mm bar","y":0.038,"x":0.107},{"s":10,"g":"1.6 mm bar","y":0.041,"x":0.106},{"s":10,"g":"1.6 mm bar","y":0.044,"x":0.104},{"s":10,"g":"1.6 mm bar","y":0.047,"x":0.095},{"s":10,"g":"1.6 mm bar","y":0.050,"x":0.085},
{"s":11,"g":"baseline","y":0.0003,"x":0.001},{"s":11,"g":"baseline","y":0.001,"x":0.001},{"s":11,"g":"baseline","y":0.002,"x":0.001},{"s":11,"g":"baseline","y":0.003,"x":0.002},{"s":11,"g":"baseline","y":0.004,"x":0.002},{"s":11,"g":"baseline","y":0.006,"x":0.002},{"s":11,"g":"baseline","y":0.008,"x":0.002},{"s":11,"g":"baseline","y":0.010,"x":0.004},{"s":11,"g":"baseline","y":0.012,"x":0.006},{"s":11,"g":"baseline","y":0.014,"x":0.009},{"s":11,"g":"baseline","y":0.016,"x":0.015},{"s":11,"g":"baseline","y":0.018,"x":0.021},{"s":11,"g":"baseline","y":0.019,"x":0.024},{"s":11,"g":"baseline","y":0.021,"x":0.031},{"s":11,"g":"baseline","y":0.024,"x":0.038},{"s":11,"g":"baseline","y":0.026,"x":0.043},{"s":11,"g":"baseline","y":0.029,"x":0.046},{"s":11,"g":"baseline","y":0.031,"x":0.042},{"s":11,"g":"baseline","y":0.034,"x":0.035},{"s":11,"g":"baseline","y":0.036,"x":0.030},{"s":11,"g":"baseline","y":0.038,"x":0.024},{"s":11,"g":"baseline","y":0.041,"x":0.018},{"s":11,"g":"baseline","y":0.044,"x":0.013},{"s":11,"g":"baseline","y":0.047,"x":0.012},{"s":11,"g":"baseline","y":0.050,"x":0.0116},
{"s":11,"g":"0.4 mm bar","y":0.0005,"x":0.031},{"s":11,"g":"0.4 mm bar","y":0.002,"x":0.031},{"s":11,"g":"0.4 mm bar","y":0.004,"x":0.031},{"s":11,"g":"0.4 mm bar","y":0.006,"x":0.031},{"s":11,"g":"0.4 mm bar","y":0.008,"x":0.029},{"s":11,"g":"0.4 mm bar","y":0.011,"x":0.028},{"s":11,"g":"0.4 mm bar","y":0.014,"x":0.029},{"s":11,"g":"0.4 mm bar","y":0.017,"x":0.031},{"s":11,"g":"0.4 mm bar","y":0.020,"x":0.037},{"s":11,"g":"0.4 mm bar","y":0.022,"x":0.042},{"s":11,"g":"0.4 mm bar","y":0.025,"x":0.049},{"s":11,"g":"0.4 mm bar","y":0.027,"x":0.055},{"s":11,"g":"0.4 mm bar","y":0.029,"x":0.055},{"s":11,"g":"0.4 mm bar","y":0.031,"x":0.050},{"s":11,"g":"0.4 mm bar","y":0.034,"x":0.040},{"s":11,"g":"0.4 mm bar","y":0.038,"x":0.030},{"s":11,"g":"0.4 mm bar","y":0.044,"x":0.018},{"s":11,"g":"0.4 mm bar","y":0.050,"x":0.012},
{"s":11,"g":"0.8 mm bar","y":0.0005,"x":0.035},{"s":11,"g":"0.8 mm bar","y":0.002,"x":0.035},{"s":11,"g":"0.8 mm bar","y":0.004,"x":0.035},{"s":11,"g":"0.8 mm bar","y":0.006,"x":0.035},{"s":11,"g":"0.8 mm bar","y":0.009,"x":0.036},{"s":11,"g":"0.8 mm bar","y":0.012,"x":0.038},{"s":11,"g":"0.8 mm bar","y":0.015,"x":0.045},{"s":11,"g":"0.8 mm bar","y":0.018,"x":0.053},{"s":11,"g":"0.8 mm bar","y":0.020,"x":0.056},{"s":11,"g":"0.8 mm bar","y":0.022,"x":0.057},{"s":11,"g":"0.8 mm bar","y":0.024,"x":0.059},{"s":11,"g":"0.8 mm bar","y":0.026,"x":0.060},{"s":11,"g":"0.8 mm bar","y":0.029,"x":0.058},{"s":11,"g":"0.8 mm bar","y":0.032,"x":0.052},{"s":11,"g":"0.8 mm bar","y":0.035,"x":0.048},{"s":11,"g":"0.8 mm bar","y":0.038,"x":0.043},{"s":11,"g":"0.8 mm bar","y":0.041,"x":0.045},{"s":11,"g":"0.8 mm bar","y":0.044,"x":0.049},{"s":11,"g":"0.8 mm bar","y":0.047,"x":0.040},{"s":11,"g":"0.8 mm bar","y":0.050,"x":0.030},
{"s":11,"g":"1.6 mm bar","y":0.0004,"x":0.028},{"s":11,"g":"1.6 mm bar","y":0.0007,"x":0.045},{"s":11,"g":"1.6 mm bar","y":0.001,"x":0.064},{"s":11,"g":"1.6 mm bar","y":0.0015,"x":0.085},{"s":11,"g":"1.6 mm bar","y":0.002,"x":0.107},{"s":11,"g":"1.6 mm bar","y":0.003,"x":0.130},{"s":11,"g":"1.6 mm bar","y":0.0036,"x":0.150},{"s":11,"g":"1.6 mm bar","y":0.0045,"x":0.165},{"s":11,"g":"1.6 mm bar","y":0.006,"x":0.179},{"s":11,"g":"1.6 mm bar","y":0.0075,"x":0.192},{"s":11,"g":"1.6 mm bar","y":0.009,"x":0.201},{"s":11,"g":"1.6 mm bar","y":0.011,"x":0.208},{"s":11,"g":"1.6 mm bar","y":0.013,"x":0.212},{"s":11,"g":"1.6 mm bar","y":0.015,"x":0.213},{"s":11,"g":"1.6 mm bar","y":0.017,"x":0.212},{"s":11,"g":"1.6 mm bar","y":0.019,"x":0.207},{"s":11,"g":"1.6 mm bar","y":0.022,"x":0.201},{"s":11,"g":"1.6 mm bar","y":0.024,"x":0.194},{"s":11,"g":"1.6 mm bar","y":0.026,"x":0.187},{"s":11,"g":"1.6 mm bar","y":0.029,"x":0.176},{"s":11,"g":"1.6 mm bar","y":0.031,"x":0.166},{"s":11,"g":"1.6 mm bar","y":0.034,"x":0.154},{"s":11,"g":"1.6 mm bar","y":0.036,"x":0.150},{"s":11,"g":"1.6 mm bar","y":0.038,"x":0.147},{"s":11,"g":"1.6 mm bar","y":0.041,"x":0.141},{"s":11,"g":"1.6 mm bar","y":0.044,"x":0.135},{"s":11,"g":"1.6 mm bar","y":0.047,"x":0.125},{"s":11,"g":"1.6 mm bar","y":0.050,"x":0.115}
],
"C":[
{"s":7,"g":"baseline","y":0.0005,"x":0.06},{"s":7,"g":"baseline","y":0.001,"x":0.05},{"s":7,"g":"baseline","y":0.002,"x":0.04},{"s":7,"g":"baseline","y":0.003,"x":0.035},{"s":7,"g":"baseline","y":0.004,"x":0.03},{"s":7,"g":"baseline","y":0.006,"x":0.025},{"s":7,"g":"baseline","y":0.008,"x":0.02},{"s":7,"g":"baseline","y":0.010,"x":0.018},{"s":7,"g":"baseline","y":0.012,"x":0.016},{"s":7,"g":"baseline","y":0.014,"x":0.015},{"s":7,"g":"baseline","y":0.016,"x":0.014},{"s":7,"g":"baseline","y":0.018,"x":0.013},{"s":7,"g":"baseline","y":0.020,"x":0.012},{"s":7,"g":"baseline","y":0.023,"x":0.011},{"s":7,"g":"baseline","y":0.026,"x":0.01},{"s":7,"g":"baseline","y":0.029,"x":0.009},{"s":7,"g":"baseline","y":0.032,"x":0.008},{"s":7,"g":"baseline","y":0.035,"x":0.007},{"s":7,"g":"baseline","y":0.038,"x":0.006},{"s":7,"g":"baseline","y":0.041,"x":0.005},{"s":7,"g":"baseline","y":0.044,"x":0.004},{"s":7,"g":"baseline","y":0.047,"x":0.003},{"s":7,"g":"baseline","y":0.050,"x":0.003},
{"s":7,"g":"1.6 mm bar","y":0.0005,"x":0.07},{"s":7,"g":"1.6 mm bar","y":0.001,"x":0.06},{"s":7,"g":"1.6 mm bar","y":0.002,"x":0.05},{"s":7,"g":"1.6 mm bar","y":0.003,"x":0.04},{"s":7,"g":"1.6 mm bar","y":0.005,"x":0.03},{"s":7,"g":"1.6 mm bar","y":0.008,"x":0.022},{"s":7,"g":"1.6 mm bar","y":0.012,"x":0.017},{"s":7,"g":"1.6 mm bar","y":0.018,"x":0.013},{"s":7,"g":"1.6 mm bar","y":0.025,"x":0.01},{"s":7,"g":"1.6 mm bar","y":0.035,"x":0.007},{"s":7,"g":"1.6 mm bar","y":0.050,"x":0.004},
{"s":8,"g":"baseline","y":0.0005,"x":0.06},{"s":8,"g":"baseline","y":0.001,"x":0.08},{"s":8,"g":"baseline","y":0.002,"x":0.10},{"s":8,"g":"baseline","y":0.003,"x":0.07},{"s":8,"g":"baseline","y":0.004,"x":0.05},{"s":8,"g":"baseline","y":0.006,"x":0.035},{"s":8,"g":"baseline","y":0.008,"x":0.028},{"s":8,"g":"baseline","y":0.010,"x":0.024},{"s":8,"g":"baseline","y":0.012,"x":0.021},{"s":8,"g":"baseline","y":0.014,"x":0.019},{"s":8,"g":"baseline","y":0.016,"x":0.018},{"s":8,"g":"baseline","y":0.018,"x":0.016},{"s":8,"g":"baseline","y":0.020,"x":0.015},{"s":8,"g":"baseline","y":0.023,"x":0.013},{"s":8,"g":"baseline","y":0.026,"x":0.012},{"s":8,"g":"baseline","y":0.029,"x":0.011},{"s":8,"g":"baseline","y":0.032,"x":0.009},{"s":8,"g":"baseline","y":0.035,"x":0.008},{"s":8,"g":"baseline","y":0.038,"x":0.007},{"s":8,"g":"baseline","y":0.041,"x":0.006},{"s":8,"g":"baseline","y":0.044,"x":0.005},{"s":8,"g":"baseline","y":0.047,"x":0.004},{"s":8,"g":"baseline","y":0.050,"x":0.003},
{"s":8,"g":"1.6 mm bar","y":0.0005,"x":0.08},{"s":8,"g":"1.6 mm bar","y":0.001,"x":0.10},{"s":8,"g":"1.6 mm bar","y":0.002,"x":0.11},{"s":8,"g":"1.6 mm bar","y":0.003,"x":0.08},{"s":8,"g":"1.6 mm bar","y":0.005,"x":0.05},{"s":8,"g":"1.6 mm bar","y":0.008,"x":0.035},{"s":8,"g":"1.6 mm bar","y":0.012,"x":0.028},{"s":8,"g":"1.6 mm bar","y":0.018,"x":0.02},{"s":8,"g":"1.6 mm bar","y":0.025,"x":0.015},{"s":8,"g":"1.6 mm bar","y":0.035,"x":0.01},{"s":8,"g":"1.6 mm bar","y":0.050,"x":0.005},
{"s":9,"g":"baseline","y":0.0005,"x":0.05},{"s":9,"g":"baseline","y":0.001,"x":0.07},{"s":9,"g":"baseline","y":0.002,"x":0.09},{"s":9,"g":"baseline","y":0.003,"x":0.07},{"s":9,"g":"baseline","y":0.004,"x":0.05},{"s":9,"g":"baseline","y":0.006,"x":0.035},{"s":9,"g":"baseline","y":0.008,"x":0.028},{"s":9,"g":"baseline","y":0.010,"x":0.024},{"s":9,"g":"baseline","y":0.012,"x":0.021},{"s":9,"g":"baseline","y":0.014,"x":0.019},{"s":9,"g":"baseline","y":0.016,"x":0.018},{"s":9,"g":"baseline","y":0.018,"x":0.016},{"s":9,"g":"baseline","y":0.020,"x":0.015},{"s":9,"g":"baseline","y":0.023,"x":0.013},{"s":9,"g":"baseline","y":0.026,"x":0.012},{"s":9,"g":"baseline","y":0.029,"x":0.011},{"s":9,"g":"baseline","y":0.032,"x":0.009},{"s":9,"g":"baseline","y":0.035,"x":0.008},{"s":9,"g":"baseline","y":0.038,"x":0.007},{"s":9,"g":"baseline","y":0.041,"x":0.006},{"s":9,"g":"baseline","y":0.044,"x":0.005},{"s":9,"g":"baseline","y":0.047,"x":0.004},{"s":9,"g":"baseline","y":0.050,"x":0.003},
{"s":9,"g":"1.6 mm bar","y":0.0005,"x":0.07},{"s":9,"g":"1.6 mm bar","y":0.001,"x":0.10},{"s":9,"g":"1.6 mm bar","y":0.002,"x":0.12},{"s":9,"g":"1.6 mm bar","y":0.003,"x":0.10},{"s":9,"g":"1.6 mm bar","y":0.005,"x":0.07},{"s":9,"g":"1.6 mm bar","y":0.008,"x":0.05},{"s":9,"g":"1.6 mm bar","y":0.012,"x":0.035},{"s":9,"g":"1.6 mm bar","y":0.018,"x":0.025},{"s":9,"g":"1.6 mm bar","y":0.025,"x":0.018},{"s":9,"g":"1.6 mm bar","y":0.035,"x":0.012},{"s":9,"g":"1.6 mm bar","y":0.050,"x":0.006},
{"s":10,"g":"baseline","y":0.0005,"x":0.02},{"s":10,"g":"baseline","y":0.001,"x":0.02},{"s":10,"g":"baseline","y":0.002,"x":0.018},{"s":10,"g":"baseline","y":0.004,"x":0.016},{"s":10,"g":"baseline","y":0.006,"x":0.015},{"s":10,"g":"baseline","y":0.008,"x":0.014},{"s":10,"g":"baseline","y":0.010,"x":0.013},{"s":10,"g":"baseline","y":0.012,"x":0.012},{"s":10,"g":"baseline","y":0.014,"x":0.011},{"s":10,"g":"baseline","y":0.016,"x":0.011},{"s":10,"g":"baseline","y":0.018,"x":0.010},{"s":10,"g":"baseline","y":0.020,"x":0.010},{"s":10,"g":"baseline","y":0.023,"x":0.009},{"s":10,"g":"baseline","y":0.026,"x":0.009},{"s":10,"g":"baseline","y":0.029,"x":0.008},{"s":10,"g":"baseline","y":0.032,"x":0.007},{"s":10,"g":"baseline","y":0.035,"x":0.007},{"s":10,"g":"baseline","y":0.038,"x":0.006},{"s":10,"g":"baseline","y":0.041,"x":0.005},{"s":10,"g":"baseline","y":0.044,"x":0.004},{"s":10,"g":"baseline","y":0.047,"x":0.004},{"s":10,"g":"baseline","y":0.050,"x":0.003},
{"s":10,"g":"1.6 mm bar","y":0.0005,"x":0.05},{"s":10,"g":"1.6 mm bar","y":0.002,"x":0.08},{"s":10,"g":"1.6 mm bar","y":0.004,"x":0.10},{"s":10,"g":"1.6 mm bar","y":0.006,"x":0.10},{"s":10,"g":"1.6 mm bar","y":0.008,"x":0.095},{"s":10,"g":"1.6 mm bar","y":0.010,"x":0.09},{"s":10,"g":"1.6 mm bar","y":0.013,"x":0.085},{"s":10,"g":"1.6 mm bar","y":0.0156,"x":0.08},{"s":10,"g":"1.6 mm bar","y":0.018,"x":0.07},{"s":10,"g":"1.6 mm bar","y":0.021,"x":0.06},{"s":10,"g":"1.6 mm bar","y":0.024,"x":0.05},{"s":10,"g":"1.6 mm bar","y":0.027,"x":0.04},{"s":10,"g":"1.6 mm bar","y":0.030,"x":0.03},{"s":10,"g":"1.6 mm bar","y":0.034,"x":0.02},{"s":10,"g":"1.6 mm bar","y":0.040,"x":0.012},{"s":10,"g":"1.6 mm bar","y":0.045,"x":0.008},{"s":10,"g":"1.6 mm bar","y":0.050,"x":0.005},
{"s":11,"g":"baseline","y":0.0005,"x":0.02},{"s":11,"g":"baseline","y":0.001,"x":0.02},{"s":11,"g":"baseline","y":0.002,"x":0.018},{"s":11,"g":"baseline","y":0.004,"x":0.016},{"s":11,"g":"baseline","y":0.006,"x":0.015},{"s":11,"g":"baseline","y":0.008,"x":0.014},{"s":11,"g":"baseline","y":0.010,"x":0.013},{"s":11,"g":"baseline","y":0.012,"x":0.012},{"s":11,"g":"baseline","y":0.014,"x":0.011},{"s":11,"g":"baseline","y":0.016,"x":0.011},{"s":11,"g":"baseline","y":0.018,"x":0.010},{"s":11,"g":"baseline","y":0.020,"x":0.010},{"s":11,"g":"baseline","y":0.023,"x":0.009},{"s":11,"g":"baseline","y":0.026,"x":0.009},{"s":11,"g":"baseline","y":0.029,"x":0.008},{"s":11,"g":"baseline","y":0.032,"x":0.007},{"s":11,"g":"baseline","y":0.035,"x":0.007},{"s":11,"g":"baseline","y":0.038,"x":0.006},{"s":11,"g":"baseline","y":0.041,"x":0.005},{"s":11,"g":"baseline","y":0.044,"x":0.004},{"s":11,"g":"baseline","y":0.047,"x":0.004},{"s":11,"g":"baseline","y":0.050,"x":0.003},
{"s":11,"g":"0.4 mm bar","y":0.002,"x":0.03},{"s":11,"g":"0.4 mm bar","y":0.006,"x":0.05},{"s":11,"g":"0.4 mm bar","y":0.010,"x":0.07},{"s":11,"g":"0.4 mm bar","y":0.014,"x":0.08},{"s":11,"g":"0.4 mm bar","y":0.018,"x":0.085},{"s":11,"g":"0.4 mm bar","y":0.022,"x":0.08},{"s":11,"g":"0.4 mm bar","y":0.026,"x":0.07},{"s":11,"g":"0.4 mm bar","y":0.030,"x":0.055},{"s":11,"g":"0.4 mm bar","y":0.035,"x":0.04},{"s":11,"g":"0.4 mm bar","y":0.040,"x":0.025},{"s":11,"g":"0.4 mm bar","y":0.045,"x":0.012},{"s":11,"g":"0.4 mm bar","y":0.050,"x":0.006},
{"s":11,"g":"0.8 mm bar","y":0.002,"x":0.04},{"s":11,"g":"0.8 mm bar","y":0.006,"x":0.06},{"s":11,"g":"0.8 mm bar","y":0.010,"x":0.08},{"s":11,"g":"0.8 mm bar","y":0.014,"x":0.095},{"s":11,"g":"0.8 mm bar","y":0.018,"x":0.10},{"s":11,"g":"0.8 mm bar","y":0.022,"x":0.095},{"s":11,"g":"0.8 mm bar","y":0.026,"x":0.085},{"s":11,"g":"0.8 mm bar","y":0.030,"x":0.07},{"s":11,"g":"0.8 mm bar","y":0.035,"x":0.05},{"s":11,"g":"0.8 mm bar","y":0.040,"x":0.03},{"s":11,"g":"0.8 mm bar","y":0.045,"x":0.015},{"s":11,"g":"0.8 mm bar","y":0.050,"x":0.008},
{"s":11,"g":"1.6 mm bar","y":0.0005,"x":0.03},{"s":11,"g":"1.6 mm bar","y":0.002,"x":0.06},{"s":11,"g":"1.6 mm bar","y":0.004,"x":0.08},{"s":11,"g":"1.6 mm bar","y":0.006,"x":0.10},{"s":11,"g":"1.6 mm bar","y":0.008,"x":0.115},{"s":11,"g":"1.6 mm bar","y":0.010,"x":0.125},{"s":11,"g":"1.6 mm bar","y":0.012,"x":0.13},{"s":11,"g":"1.6 mm bar","y":0.014,"x":0.135},{"s":11,"g":"1.6 mm bar","y":0.016,"x":0.14},{"s":11,"g":"1.6 mm bar","y":0.018,"x":0.14},{"s":11,"g":"1.6 mm bar","y":0.020,"x":0.14},{"s":11,"g":"1.6 mm bar","y":0.022,"x":0.13},{"s":11,"g":"1.6 mm bar","y":0.024,"x":0.12},{"s":11,"g":"1.6 mm bar","y":0.026,"x":0.11},{"s":11,"g":"1.6 mm bar","y":0.028,"x":0.095},{"s":11,"g":"1.6 mm bar","y":0.030,"x":0.08},{"s":11,"g":"1.6 mm bar","y":0.033,"x":0.06},{"s":11,"g":"1.6 mm bar","y":0.036,"x":0.045},{"s":11,"g":"1.6 mm bar","y":0.040,"x":0.03},{"s":11,"g":"1.6 mm bar","y":0.045,"x":0.015},{"s":11,"g":"1.6 mm bar","y":0.050,"x":0.008}
]
},
"config":{
"font":"Liberation Sans",
"view":{"stroke":null},
"point":{"filled":true,"size":42,"stroke":"black","strokeWidth":0.8,"opacity":1},
"text":{"fontSize":15,"color":"black","align":"center","baseline":"middle"},
"axis":{"labelFontSize":15,"labelColor":"black","labelFlush":false,"labelOverlap":false,"titleFontSize":15,"titleFontWeight":"normal","titleColor":"black","domainColor":"black","domainWidth":1.2,"tickColor":"black","tickSize":-5,"tickWidth":1,"grid":true,"gridColor":"black","gridDash":[1,2],"gridOpacity":1,"gridWidth":0.8,"labelPadding":9},
"axisY":{"labelPadding":8.5},
"legend":{"orient":"none","legendX":66,"legendY":385,"direction":"horizontal","labelFontSize":15,"labelColor":"black","symbolSize":30,"columnPadding":30,"labelOffset":7,"symbolStrokeWidth":0.8}
},
"columns":5,
"spacing":{"row":41.5,"column":0},
"bounds":"flush",
"concat":[
{"width":115,"height":83,"encoding":{"x":{"field":"x","type":"quantitative","scale":{"domain":[0,1.5],"nice":false,"zero":false},"axis":{"values":[0,1],"labelExpr":"datum.value==0?'0':''","title":null}},"y":{"field":"y","type":"quantitative","scale":{"domain":[0,0.05],"nice":false},"axis":{"values":[0,0.05],"format":".2~f","title":"y/Lₛ","titleBaseline":"middle","titleX":-48}}},
"layer":[{"data":{"name":"A"},"transform":[{"filter":"datum.s==7"}],"mark":{"type":"point","stroke":"black"},"encoding":{"shape":{"field":"g","type":"nominal","title":null,"legend":{"encode":{"symbols":{"update":{"stroke":{"value":"black"},"strokeWidth":{"value":0.8}}}}},"scale":{"domain":["baseline","0.4 mm bar","0.8 mm bar","1.6 mm bar"],"range":["circle","M-0.75,-0.75L0.75,-0.75L0.75,0.75L-0.75,0.75Z","M-0.85,0L0.85,0M0,-0.85L0,0.85","M0,-1L0.247,-0.24L1.046,-0.24L0.4,0.23L0.647,0.99L0,0.52L-0.647,0.99L-0.4,0.23L-1.046,-0.24L-0.247,-0.24Z"]}},"fill":{"field":"g","type":"nominal","title":null,"legend":{"encode":{"symbols":{"update":{"stroke":{"value":"black"},"strokeWidth":{"value":0.8}}}}},"scale":{"domain":["baseline","0.4 mm bar","0.8 mm bar","1.6 mm bar"],"range":["black","transparent","transparent","black"]}}}},
{"data":{"values":[{"x":0.45,"y":0.037,"n":"7"},{"x":-0.77,"y":0.04,"n":"a)"}]},"mark":"text","encoding":{"text":{"field":"n"}}}]},
{"width":115,"height":83,"encoding":{"x":{"field":"x","type":"quantitative","scale":{"domain":[0,1.5],"nice":false,"zero":false},"axis":{"values":[0,1],"labelExpr":"datum.value==0?'0':''","title":null}},"y":{"field":"y","type":"quantitative","scale":{"domain":[0,0.05],"nice":false},"axis":{"values":[0.05],"labels":false,"ticks":false,"domain":false,"title":null}}},
"layer":[{"data":{"name":"A"},"transform":[{"filter":"datum.s==8"}],"mark":{"type":"point","stroke":"black"},"encoding":{"shape":{"field":"g","type":"nominal","title":null,"legend":{"encode":{"symbols":{"update":{"stroke":{"value":"black"},"strokeWidth":{"value":0.8}}}}},"scale":{"domain":["baseline","0.4 mm bar","0.8 mm bar","1.6 mm bar"],"range":["circle","M-0.75,-0.75L0.75,-0.75L0.75,0.75L-0.75,0.75Z","M-0.85,0L0.85,0M0,-0.85L0,0.85","M0,-1L0.247,-0.24L1.046,-0.24L0.4,0.23L0.647,0.99L0,0.52L-0.647,0.99L-0.4,0.23L-1.046,-0.24L-0.247,-0.24Z"]}},"fill":{"field":"g","type":"nominal","title":null,"legend":{"encode":{"symbols":{"update":{"stroke":{"value":"black"},"strokeWidth":{"value":0.8}}}}},"scale":{"domain":["baseline","0.4 mm bar","0.8 mm bar","1.6 mm bar"],"range":["black","transparent","transparent","black"]}}}},
{"data":{"values":[{"x":0.47,"y":0.037,"n":"8"}]},"mark":"text","encoding":{"text":{"field":"n"}}}]},
{"width":115,"height":83,"encoding":{"x":{"field":"x","type":"quantitative","scale":{"domain":[0,1.5],"nice":false,"zero":false},"axis":{"values":[0,1],"labelExpr":"datum.value==0?'0':''","title":"U/Uₑ","titleBaseline":"alphabetic","titleY":30}},"y":{"field":"y","type":"quantitative","scale":{"domain":[0,0.05],"nice":false},"axis":{"values":[0.05],"labels":false,"ticks":false,"domain":false,"title":null}}},
"layer":[{"data":{"name":"A"},"transform":[{"filter":"datum.s==9"}],"mark":{"type":"point","stroke":"black"},"encoding":{"shape":{"field":"g","type":"nominal","title":null,"legend":{"encode":{"symbols":{"update":{"stroke":{"value":"black"},"strokeWidth":{"value":0.8}}}}},"scale":{"domain":["baseline","0.4 mm bar","0.8 mm bar","1.6 mm bar"],"range":["circle","M-0.75,-0.75L0.75,-0.75L0.75,0.75L-0.75,0.75Z","M-0.85,0L0.85,0M0,-0.85L0,0.85","M0,-1L0.247,-0.24L1.046,-0.24L0.4,0.23L0.647,0.99L0,0.52L-0.647,0.99L-0.4,0.23L-1.046,-0.24L-0.247,-0.24Z"]}},"fill":{"field":"g","type":"nominal","title":null,"legend":{"encode":{"symbols":{"update":{"stroke":{"value":"black"},"strokeWidth":{"value":0.8}}}}},"scale":{"domain":["baseline","0.4 mm bar","0.8 mm bar","1.6 mm bar"],"range":["black","transparent","transparent","black"]}}}},
{"data":{"values":[{"x":0.47,"y":0.037,"n":"9"}]},"mark":"text","encoding":{"text":{"field":"n"}}}]},
{"width":115,"height":83,"encoding":{"x":{"field":"x","type":"quantitative","scale":{"domain":[0,1.5],"nice":false,"zero":false},"axis":{"values":[0,1],"labelExpr":"datum.value==0?'0':''","title":null}},"y":{"field":"y","type":"quantitative","scale":{"domain":[0,0.05],"nice":false},"axis":{"values":[0.05],"labels":false,"ticks":false,"domain":false,"title":null}}},
"layer":[{"data":{"name":"A"},"transform":[{"filter":"datum.s==10"}],"mark":{"type":"point","stroke":"black"},"encoding":{"shape":{"field":"g","type":"nominal","title":null,"legend":{"encode":{"symbols":{"update":{"stroke":{"value":"black"},"strokeWidth":{"value":0.8}}}}},"scale":{"domain":["baseline","0.4 mm bar","0.8 mm bar","1.6 mm bar"],"range":["circle","M-0.75,-0.75L0.75,-0.75L0.75,0.75L-0.75,0.75Z","M-0.85,0L0.85,0M0,-0.85L0,0.85","M0,-1L0.247,-0.24L1.046,-0.24L0.4,0.23L0.647,0.99L0,0.52L-0.647,0.99L-0.4,0.23L-1.046,-0.24L-0.247,-0.24Z"]}},"fill":{"field":"g","type":"nominal","title":null,"legend":{"encode":{"symbols":{"update":{"stroke":{"value":"black"},"strokeWidth":{"value":0.8}}}}},"scale":{"domain":["baseline","0.4 mm bar","0.8 mm bar","1.6 mm bar"],"range":["black","transparent","transparent","black"]}}}},
{"data":{"values":[{"x":0.53,"y":0.037,"n":"10"}]},"mark":"text","encoding":{"text":{"field":"n"}}}]},
{"width":115,"height":83,"encoding":{"x":{"field":"x","type":"quantitative","scale":{"domain":[0,1.5],"nice":false,"zero":false},"axis":{"values":[0,1],"labelExpr":"datum.value==0?'0':'1'","title":null}},"y":{"field":"y","type":"quantitative","scale":{"domain":[0,0.05],"nice":false},"axis":{"values":[0.05],"labels":false,"ticks":false,"domain":false,"title":null}}},
"layer":[{"data":{"name":"A"},"transform":[{"filter":"datum.s==11"}],"mark":{"type":"point","stroke":"black"},"encoding":{"shape":{"field":"g","type":"nominal","title":null,"legend":{"encode":{"symbols":{"update":{"stroke":{"value":"black"},"strokeWidth":{"value":0.8}}}}},"scale":{"domain":["baseline","0.4 mm bar","0.8 mm bar","1.6 mm bar"],"range":["circle","M-0.75,-0.75L0.75,-0.75L0.75,0.75L-0.75,0.75Z","M-0.85,0L0.85,0M0,-0.85L0,0.85","M0,-1L0.247,-0.24L1.046,-0.24L0.4,0.23L0.647,0.99L0,0.52L-0.647,0.99L-0.4,0.23L-1.046,-0.24L-0.247,-0.24Z"]}},"fill":{"field":"g","type":"nominal","title":null,"legend":{"encode":{"symbols":{"update":{"stroke":{"value":"black"},"strokeWidth":{"value":0.8}}}}},"scale":{"domain":["baseline","0.4 mm bar","0.8 mm bar","1.6 mm bar"],"range":["black","transparent","transparent","black"]}}}},
{"data":{"values":[{"x":0.52,"y":0.037,"n":"11"}]},"mark":"text","encoding":{"text":{"field":"n"}}}]},
{"width":115,"height":83,"encoding":{"x":{"field":"x","type":"quantitative","scale":{"domain":[0,0.25],"nice":false,"zero":false},"axis":{"values":[0,0.2],"labelExpr":"datum.value==0?'0':''","title":null}},"y":{"field":"y","type":"quantitative","scale":{"domain":[0,0.05],"nice":false},"axis":{"values":[0,0.05],"format":".2~f","title":"y/Lₛ","titleBaseline":"middle","titleX":-48}}},
"layer":[{"data":{"name":"B"},"transform":[{"filter":"datum.s==7"}],"mark":{"type":"point","stroke":"black"},"encoding":{"shape":{"field":"g","type":"nominal","title":null,"legend":{"encode":{"symbols":{"update":{"stroke":{"value":"black"},"strokeWidth":{"value":0.8}}}}},"scale":{"domain":["baseline","0.4 mm bar","0.8 mm bar","1.6 mm bar"],"range":["circle","M-0.75,-0.75L0.75,-0.75L0.75,0.75L-0.75,0.75Z","M-0.85,0L0.85,0M0,-0.85L0,0.85","M0,-1L0.247,-0.24L1.046,-0.24L0.4,0.23L0.647,0.99L0,0.52L-0.647,0.99L-0.4,0.23L-1.046,-0.24L-0.247,-0.24Z"]}},"fill":{"field":"g","type":"nominal","title":null,"legend":{"encode":{"symbols":{"update":{"stroke":{"value":"black"},"strokeWidth":{"value":0.8}}}}},"scale":{"domain":["baseline","0.4 mm bar","0.8 mm bar","1.6 mm bar"],"range":["black","transparent","transparent","black"]}}}},
{"data":{"values":[{"x":0.076,"y":0.037,"n":"7"},{"x":-0.128,"y":0.041,"n":"b)"}]},"mark":"text","encoding":{"text":{"field":"n"}}}]},
{"width":115,"height":83,"encoding":{"x":{"field":"x","type":"quantitative","scale":{"domain":[0,0.25],"nice":false,"zero":false},"axis":{"values":[0,0.2],"labelExpr":"datum.value==0?'0':''","title":null}},"y":{"field":"y","type":"quantitative","scale":{"domain":[0,0.05],"nice":false},"axis":{"values":[0.05],"labels":false,"ticks":false,"domain":false,"title":null}}},
"layer":[{"data":{"name":"B"},"transform":[{"filter":"datum.s==8"}],"mark":{"type":"point","stroke":"black"},"encoding":{"shape":{"field":"g","type":"nominal","title":null,"legend":{"encode":{"symbols":{"update":{"stroke":{"value":"black"},"strokeWidth":{"value":0.8}}}}},"scale":{"domain":["baseline","0.4 mm bar","0.8 mm bar","1.6 mm bar"],"range":["circle","M-0.75,-0.75L0.75,-0.75L0.75,0.75L-0.75,0.75Z","M-0.85,0L0.85,0M0,-0.85L0,0.85","M0,-1L0.247,-0.24L1.046,-0.24L0.4,0.23L0.647,0.99L0,0.52L-0.647,0.99L-0.4,0.23L-1.046,-0.24L-0.247,-0.24Z"]}},"fill":{"field":"g","type":"nominal","title":null,"legend":{"encode":{"symbols":{"update":{"stroke":{"value":"black"},"strokeWidth":{"value":0.8}}}}},"scale":{"domain":["baseline","0.4 mm bar","0.8 mm bar","1.6 mm bar"],"range":["black","transparent","transparent","black"]}}}},
{"data":{"values":[{"x":0.078,"y":0.037,"n":"8"}]},"mark":"text","encoding":{"text":{"field":"n"}}}]},
{"width":115,"height":83,"encoding":{"x":{"field":"x","type":"quantitative","scale":{"domain":[0,0.25],"nice":false,"zero":false},"axis":{"values":[0,0.2],"labelExpr":"datum.value==0?'0':''","title":"u′/Uₑ","titleBaseline":"alphabetic","titleY":30}},"y":{"field":"y","type":"quantitative","scale":{"domain":[0,0.05],"nice":false},"axis":{"values":[0.05],"labels":false,"ticks":false,"domain":false,"title":null}}},
"layer":[{"data":{"name":"B"},"transform":[{"filter":"datum.s==9"}],"mark":{"type":"point","stroke":"black"},"encoding":{"shape":{"field":"g","type":"nominal","title":null,"legend":{"encode":{"symbols":{"update":{"stroke":{"value":"black"},"strokeWidth":{"value":0.8}}}}},"scale":{"domain":["baseline","0.4 mm bar","0.8 mm bar","1.6 mm bar"],"range":["circle","M-0.75,-0.75L0.75,-0.75L0.75,0.75L-0.75,0.75Z","M-0.85,0L0.85,0M0,-0.85L0,0.85","M0,-1L0.247,-0.24L1.046,-0.24L0.4,0.23L0.647,0.99L0,0.52L-0.647,0.99L-0.4,0.23L-1.046,-0.24L-0.247,-0.24Z"]}},"fill":{"field":"g","type":"nominal","title":null,"legend":{"encode":{"symbols":{"update":{"stroke":{"value":"black"},"strokeWidth":{"value":0.8}}}}},"scale":{"domain":["baseline","0.4 mm bar","0.8 mm bar","1.6 mm bar"],"range":["black","transparent","transparent","black"]}}}},
{"data":{"values":[{"x":0.08,"y":0.037,"n":"9"}]},"mark":"text","encoding":{"text":{"field":"n"}}}]},
{"width":115,"height":83,"encoding":{"x":{"field":"x","type":"quantitative","scale":{"domain":[0,0.25],"nice":false,"zero":false},"axis":{"values":[0,0.2],"labelExpr":"datum.value==0?'0':''","title":null}},"y":{"field":"y","type":"quantitative","scale":{"domain":[0,0.05],"nice":false},"axis":{"values":[0.05],"labels":false,"ticks":false,"domain":false,"title":null}}},
"layer":[{"data":{"name":"B"},"transform":[{"filter":"datum.s==10"}],"mark":{"type":"point","stroke":"black"},"encoding":{"shape":{"field":"g","type":"nominal","title":null,"legend":{"encode":{"symbols":{"update":{"stroke":{"value":"black"},"strokeWidth":{"value":0.8}}}}},"scale":{"domain":["baseline","0.4 mm bar","0.8 mm bar","1.6 mm bar"],"range":["circle","M-0.75,-0.75L0.75,-0.75L0.75,0.75L-0.75,0.75Z","M-0.85,0L0.85,0M0,-0.85L0,0.85","M0,-1L0.247,-0.24L1.046,-0.24L0.4,0.23L0.647,0.99L0,0.52L-0.647,0.99L-0.4,0.23L-1.046,-0.24L-0.247,-0.24Z"]}},"fill":{"field":"g","type":"nominal","title":null,"legend":{"encode":{"symbols":{"update":{"stroke":{"value":"black"},"strokeWidth":{"value":0.8}}}}},"scale":{"domain":["baseline","0.4 mm bar","0.8 mm bar","1.6 mm bar"],"range":["black","transparent","transparent","black"]}}}},
{"data":{"values":[{"x":0.087,"y":0.037,"n":"10"}]},"mark":"text","encoding":{"text":{"field":"n"}}}]},
{"width":115,"height":83,"encoding":{"x":{"field":"x","type":"quantitative","scale":{"domain":[0,0.25],"nice":false,"zero":false},"axis":{"values":[0,0.2],"labelExpr":"datum.value==0?'0':'0.2'","title":null}},"y":{"field":"y","type":"quantitative","scale":{"domain":[0,0.05],"nice":false},"axis":{"values":[0.05],"labels":false,"ticks":false,"domain":false,"title":null}}},
"layer":[{"data":{"name":"B"},"transform":[{"filter":"datum.s==11"}],"mark":{"type":"point","stroke":"black"},"encoding":{"shape":{"field":"g","type":"nominal","title":null,"legend":{"encode":{"symbols":{"update":{"stroke":{"value":"black"},"strokeWidth":{"value":0.8}}}}},"scale":{"domain":["baseline","0.4 mm bar","0.8 mm bar","1.6 mm bar"],"range":["circle","M-0.75,-0.75L0.75,-0.75L0.75,0.75L-0.75,0.75Z","M-0.85,0L0.85,0M0,-0.85L0,0.85","M0,-1L0.247,-0.24L1.046,-0.24L0.4,0.23L0.647,0.99L0,0.52L-0.647,0.99L-0.4,0.23L-1.046,-0.24L-0.247,-0.24Z"]}},"fill":{"field":"g","type":"nominal","title":null,"legend":{"encode":{"symbols":{"update":{"stroke":{"value":"black"},"strokeWidth":{"value":0.8}}}}},"scale":{"domain":["baseline","0.4 mm bar","0.8 mm bar","1.6 mm bar"],"range":["black","transparent","transparent","black"]}}}},
{"data":{"values":[{"x":0.091,"y":0.037,"n":"11"}]},"mark":"text","encoding":{"text":{"field":"n"}}}]},
{"width":115,"height":83,"encoding":{"x":{"field":"x","type":"quantitative","scale":{"domain":[0,1.5],"nice":false,"zero":false},"axis":{"values":[0,1],"labelExpr":"datum.value==0?'0':''","title":null}},"y":{"field":"y","type":"quantitative","scale":{"domain":[0,0.05],"nice":false},"axis":{"values":[0,0.05],"format":".2~f","title":"y/Lₛ","titleBaseline":"middle","titleX":-48}}},
"layer":[{"data":{"name":"C"},"transform":[{"filter":"datum.s==7"}],"mark":{"type":"point","stroke":"black"},"encoding":{"shape":{"field":"g","type":"nominal","title":null,"legend":{"encode":{"symbols":{"update":{"stroke":{"value":"black"},"strokeWidth":{"value":0.8}}}}},"scale":{"domain":["baseline","0.4 mm bar","0.8 mm bar","1.6 mm bar"],"range":["circle","M-0.75,-0.75L0.75,-0.75L0.75,0.75L-0.75,0.75Z","M-0.85,0L0.85,0M0,-0.85L0,0.85","M0,-1L0.247,-0.24L1.046,-0.24L0.4,0.23L0.647,0.99L0,0.52L-0.647,0.99L-0.4,0.23L-1.046,-0.24L-0.247,-0.24Z"]}},"fill":{"field":"g","type":"nominal","title":null,"legend":{"encode":{"symbols":{"update":{"stroke":{"value":"black"},"strokeWidth":{"value":0.8}}}}},"scale":{"domain":["baseline","0.4 mm bar","0.8 mm bar","1.6 mm bar"],"range":["black","transparent","transparent","black"]}}}},
{"data":{"values":[{"x":0.46,"y":0.037,"n":"7"},{"x":-0.77,"y":0.04,"n":"c)"}]},"mark":"text","encoding":{"text":{"field":"n"}}}]},
{"width":115,"height":83,"encoding":{"x":{"field":"x","type":"quantitative","scale":{"domain":[0,1.5],"nice":false,"zero":false},"axis":{"values":[0,1],"labelExpr":"datum.value==0?'0':''","title":null}},"y":{"field":"y","type":"quantitative","scale":{"domain":[0,0.05],"nice":false},"axis":{"values":[0.05],"labels":false,"ticks":false,"domain":false,"title":null}}},
"layer":[{"data":{"name":"C"},"transform":[{"filter":"datum.s==8"}],"mark":{"type":"point","stroke":"black"},"encoding":{"shape":{"field":"g","type":"nominal","title":null,"legend":{"encode":{"symbols":{"update":{"stroke":{"value":"black"},"strokeWidth":{"value":0.8}}}}},"scale":{"domain":["baseline","0.4 mm bar","0.8 mm bar","1.6 mm bar"],"range":["circle","M-0.75,-0.75L0.75,-0.75L0.75,0.75L-0.75,0.75Z","M-0.85,0L0.85,0M0,-0.85L0,0.85","M0,-1L0.247,-0.24L1.046,-0.24L0.4,0.23L0.647,0.99L0,0.52L-0.647,0.99L-0.4,0.23L-1.046,-0.24L-0.247,-0.24Z"]}},"fill":{"field":"g","type":"nominal","title":null,"legend":{"encode":{"symbols":{"update":{"stroke":{"value":"black"},"strokeWidth":{"value":0.8}}}}},"scale":{"domain":["baseline","0.4 mm bar","0.8 mm bar","1.6 mm bar"],"range":["black","transparent","transparent","black"]}}}},
{"data":{"values":[{"x":0.46,"y":0.037,"n":"8"}]},"mark":"text","encoding":{"text":{"field":"n"}}}]},
{"width":115,"height":83,"encoding":{"x":{"field":"x","type":"quantitative","scale":{"domain":[0,1.5],"nice":false,"zero":false},"axis":{"values":[0,1],"labelExpr":"datum.value==0?'0':''","title":"γ","titleBaseline":"alphabetic","titleY":25,"titleX":51}},"y":{"field":"y","type":"quantitative","scale":{"domain":[0,0.05],"nice":false},"axis":{"values":[0.05],"labels":false,"ticks":false,"domain":false,"title":null}}},
"layer":[{"data":{"name":"C"},"transform":[{"filter":"datum.s==9"}],"mark":{"type":"point","stroke":"black"},"encoding":{"shape":{"field":"g","type":"nominal","title":null,"legend":{"encode":{"symbols":{"update":{"stroke":{"value":"black"},"strokeWidth":{"value":0.8}}}}},"scale":{"domain":["baseline","0.4 mm bar","0.8 mm bar","1.6 mm bar"],"range":["circle","M-0.75,-0.75L0.75,-0.75L0.75,0.75L-0.75,0.75Z","M-0.85,0L0.85,0M0,-0.85L0,0.85","M0,-1L0.247,-0.24L1.046,-0.24L0.4,0.23L0.647,0.99L0,0.52L-0.647,0.99L-0.4,0.23L-1.046,-0.24L-0.247,-0.24Z"]}},"fill":{"field":"g","type":"nominal","title":null,"legend":{"encode":{"symbols":{"update":{"stroke":{"value":"black"},"strokeWidth":{"value":0.8}}}}},"scale":{"domain":["baseline","0.4 mm bar","0.8 mm bar","1.6 mm bar"],"range":["black","transparent","transparent","black"]}}}},
{"data":{"values":[{"x":0.47,"y":0.037,"n":"9"}]},"mark":"text","encoding":{"text":{"field":"n"}}}]},
{"width":115,"height":83,"encoding":{"x":{"field":"x","type":"quantitative","scale":{"domain":[0,1.5],"nice":false,"zero":false},"axis":{"values":[0,1],"labelExpr":"datum.value==0?'0':''","title":null}},"y":{"field":"y","type":"quantitative","scale":{"domain":[0,0.05],"nice":false},"axis":{"values":[0.05],"labels":false,"ticks":false,"domain":false,"title":null}}},
"layer":[{"data":{"name":"C"},"transform":[{"filter":"datum.s==10"}],"mark":{"type":"point","stroke":"black"},"encoding":{"shape":{"field":"g","type":"nominal","title":null,"legend":{"encode":{"symbols":{"update":{"stroke":{"value":"black"},"strokeWidth":{"value":0.8}}}}},"scale":{"domain":["baseline","0.4 mm bar","0.8 mm bar","1.6 mm bar"],"range":["circle","M-0.75,-0.75L0.75,-0.75L0.75,0.75L-0.75,0.75Z","M-0.85,0L0.85,0M0,-0.85L0,0.85","M0,-1L0.247,-0.24L1.046,-0.24L0.4,0.23L0.647,0.99L0,0.52L-0.647,0.99L-0.4,0.23L-1.046,-0.24L-0.247,-0.24Z"]}},"fill":{"field":"g","type":"nominal","title":null,"legend":{"encode":{"symbols":{"update":{"stroke":{"value":"black"},"strokeWidth":{"value":0.8}}}}},"scale":{"domain":["baseline","0.4 mm bar","0.8 mm bar","1.6 mm bar"],"range":["black","transparent","transparent","black"]}}}},
{"data":{"values":[{"x":0.51,"y":0.037,"n":"10"}]},"mark":"text","encoding":{"text":{"field":"n"}}}]},
{"width":115,"height":83,"encoding":{"x":{"field":"x","type":"quantitative","scale":{"domain":[0,1.5],"nice":false,"zero":false},"axis":{"values":[0,1],"labelExpr":"datum.value==0?'0':'1'","title":null}},"y":{"field":"y","type":"quantitative","scale":{"domain":[0,0.05],"nice":false},"axis":{"values":[0.05],"labels":false,"ticks":false,"domain":false,"title":null}}},
"layer":[{"data":{"name":"C"},"transform":[{"filter":"datum.s==11"}],"mark":{"type":"point","stroke":"black"},"encoding":{"shape":{"field":"g","type":"nominal","title":null,"legend":{"encode":{"symbols":{"update":{"stroke":{"value":"black"},"strokeWidth":{"value":0.8}}}}},"scale":{"domain":["baseline","0.4 mm bar","0.8 mm bar","1.6 mm bar"],"range":["circle","M-0.75,-0.75L0.75,-0.75L0.75,0.75L-0.75,0.75Z","M-0.85,0L0.85,0M0,-0.85L0,0.85","M0,-1L0.247,-0.24L1.046,-0.24L0.4,0.23L0.647,0.99L0,0.52L-0.647,0.99L-0.4,0.23L-1.046,-0.24L-0.247,-0.24Z"]}},"fill":{"field":"g","type":"nominal","title":null,"legend":{"encode":{"symbols":{"update":{"stroke":{"value":"black"},"strokeWidth":{"value":0.8}}}}},"scale":{"domain":["baseline","0.4 mm bar","0.8 mm bar","1.6 mm bar"],"range":["black","transparent","transparent","black"]}}}},
{"data":{"values":[{"x":0.51,"y":0.037,"n":"11"}]},"mark":"text","encoding":{"text":{"field":"n"}}}]}
]
}
